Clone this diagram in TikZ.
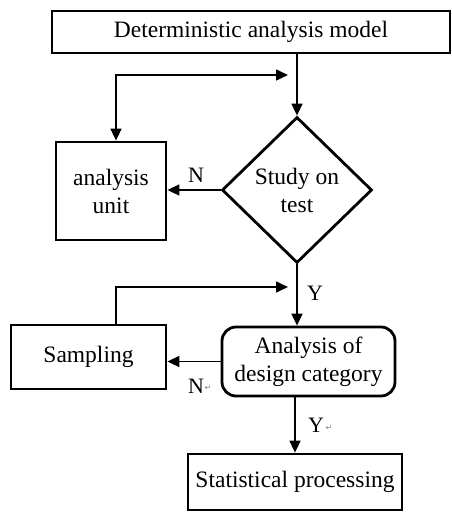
\documentclass[tikz,border=0pt]{standalone}
\usepackage{fontspec}
\setmainfont{Liberation Serif}
\newfontfamily\symfont{DejaVu Sans}
\usetikzlibrary{shapes.geometric,arrows.meta}
\begin{document}
\begin{tikzpicture}[x=1pt,y=-1pt,
  every node/.style={font=\fontsize{23.5}{28}\selectfont, inner sep=0pt},
  box/.style={draw, line width=2.8pt, align=center},
  conn/.style={line width=1.6pt, -{Triangle[length=12pt,width=11pt]}},
  lbl/.style={font=\fontsize{22}{26}\selectfont},
  ret/.style={font=\symfont\fontsize{8}{10}\selectfont, text=gray}]
\useasboundingbox (0,0) rectangle (451,512);
\node[box, minimum width=398pt, minimum height=42pt] (top) at (251,32) {Deterministic analysis model};
\node[box, minimum width=110pt, minimum height=98pt] (unit) at (111,191) {analysis\\unit};
\node[draw, line width=2.8pt, shape=diamond, aspect=1, minimum width=150pt, minimum height=146pt, align=center] (dia) at (297,190) {Study on\\test};
\node[box, minimum width=155pt, minimum height=64pt] (samp) at (88.5,357) {Sampling};
\node[box, rounded corners=14pt, minimum width=173pt, minimum height=69pt] (des) at (308.5,361.5) {Analysis of\\design category};
\node[box, minimum width=214pt, minimum height=56pt] (stat) at (295,482) {Statistical processing};
\coordinate (c1) at (288,75);
\coordinate (c2) at (288,287);
% connectors
\draw[conn] (top.south -| dia.north) -- (dia.north);
\draw[conn, {Triangle[length=12pt,width=11pt]}-{Triangle[length=12pt,width=11pt]}] ([xshift=5pt]unit.north) |- (c1);
\draw[conn] (dia.west) -- (unit.east |- dia.west);
\draw[conn] (dia.south) -- (des.north -| dia.south);
\draw[conn] ([xshift=27.5pt]samp.north) |- (c2);
\draw[conn] (des.west) -- (samp.east |- des.west);
\draw[conn] (des.south -| stat.north) -- (stat.north);
% labels
\node[lbl] (n1) at (196,175) {N};
\node[lbl] (y1) at (315,293) {Y};
\node[lbl] (n2) at (196,386) {N};
\node[ret] (r1) at (208,388) {↵};
\node[lbl] (y2) at (316,425) {Y};
\node[ret] (r2) at (329,428) {↵};
\end{tikzpicture}
\end{document}
